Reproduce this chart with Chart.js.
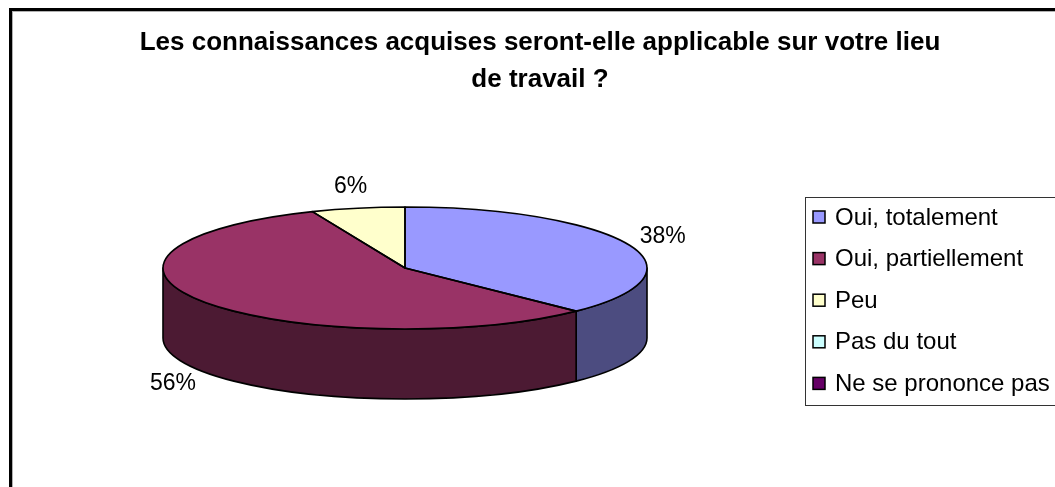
<!DOCTYPE html>
<html lang="fr">
<head>
<meta charset="utf-8">
<title>Connaissances applicables sur le lieu de travail</title>
<script src="https://cdn.jsdelivr.net/npm/chart.js@4.4.1/dist/chart.umd.min.js"></script>
<style>
  html, body { margin: 0; padding: 0; background: #fff; }
  #wrap { position: relative; width: 1055px; height: 487px; overflow: hidden; }
</style>
</head>
<body>
<div id="wrap"><canvas id="pie"></canvas></div>
<script>
const TITLE_LINES = ["Les connaissances acquises seront-elle applicable sur votre lieu", "de travail ?"];
const CATEGORIES = ["Oui, totalement", "Oui, partiellement", "Peu", "Pas du tout", "Ne se prononce pas"];
// share of answers in % (labels show them rounded)
const SHARES = [37.5, 56.25, 6.25, 0, 0];

const TOP_COLORS = ["#9999FF", "#993366", "#FFFFCC", "#CCFFFF", "#660066"];
const SIDE_COLORS = ["#4C4C80", "#4C1A33", "#80806A", "#6A8080", "#330033"];
const FONT = "'Liberation Sans', Arial, sans-serif";

// where the flattened pie sits on the canvas
const PIE = { cx: 405, cy: 268, rx: 242, ry: 61, depth: 70 };
const LABEL_GAP = { x: 37, y: 22 };
const LEGEND = { left: 805, top: 197, bottom: 405, right: 1070, firstY: 217, step: 41.6, box: 12 };

function toEllipse(ctx, arc) {
  const r = arc.outerRadius;
  ctx.translate(PIE.cx, PIE.cy);
  ctx.scale(PIE.rx / r, PIE.ry / r);
  ctx.translate(-arc.x, -arc.y);
}

const pie3d = {
  id: "pie3d",
  beforeDraw(chart) {
    const ctx = chart.ctx;
    ctx.save();
    ctx.fillStyle = "#fff";
    ctx.fillRect(0, 0, chart.width, chart.height);
    // outer chart frame (only top and left edges are inside the crop)
    ctx.fillStyle = "#b0b0b0";
    ctx.fillRect(12, 11, chart.width, 1);
    ctx.fillRect(12, 11, 1, chart.height);
    ctx.fillStyle = "#000";
    ctx.fillRect(9, 8, chart.width, 3);
    ctx.fillRect(9, 8, 3, chart.height);
    ctx.restore();
  },
  beforeDatasetsDraw(chart) {
    const ctx = chart.ctx;
    const arcs = chart.getDatasetMeta(0).data;
    // front walls of the slices
    arcs.forEach((arc, i) => {
      const a0 = Math.max(arc.startAngle, 0);
      const a1 = Math.min(arc.endAngle, Math.PI);
      if (a1 - a0 <= 1e-4) return;
      ctx.save();
      ctx.beginPath();
      ctx.ellipse(PIE.cx, PIE.cy, PIE.rx, PIE.ry, 0, a0, a1);
      ctx.ellipse(PIE.cx, PIE.cy + PIE.depth, PIE.rx, PIE.ry, 0, a1, a0, true);
      ctx.closePath();
      ctx.fillStyle = SIDE_COLORS[i];
      ctx.fill();
      ctx.lineWidth = 1.6;
      ctx.lineJoin = "round";
      ctx.strokeStyle = "#000";
      ctx.stroke();
      ctx.restore();
    });
    ctx.save();
    toEllipse(ctx, arcs[0]);
  },
  afterDatasetsDraw(chart) {
    const ctx = chart.ctx;
    ctx.restore();
    const arcs = chart.getDatasetMeta(0).data;

    // slice outlines on the top face, with an unscaled pen
    arcs.forEach((arc) => {
      if (arc.endAngle - arc.startAngle <= 1e-4) return;
      ctx.save();
      toEllipse(ctx, arc);
      ctx.beginPath();
      ctx.moveTo(arc.x, arc.y);
      ctx.arc(arc.x, arc.y, arc.outerRadius, arc.startAngle, arc.endAngle);
      ctx.closePath();
      ctx.restore();
      ctx.save();
      ctx.lineWidth = 1.6;
      ctx.lineJoin = "round";
      ctx.strokeStyle = "#000";
      ctx.stroke();
      ctx.restore();
    });

    // percentage labels outside the slices
    ctx.save();
    ctx.font = `23px ${FONT}`;
    ctx.fillStyle = "#000";
    ctx.textAlign = "center";
    ctx.textBaseline = "middle";
    arcs.forEach((arc, i) => {
      if (!SHARES[i]) return;
      const mid = (arc.startAngle + arc.endAngle) / 2;
      const c = Math.cos(mid);
      const s = Math.sin(mid);
      const x = PIE.cx + (PIE.rx + LABEL_GAP.x) * c;
      const y = PIE.cy + (PIE.ry + LABEL_GAP.y) * s + (s > 0 ? PIE.depth : 0);
      ctx.fillText(`${Math.round(SHARES[i])}%`, x, y);
    });
    ctx.restore();

    // legend box
    ctx.save();
    ctx.strokeStyle = "#333";
    ctx.lineWidth = 1;
    ctx.strokeRect(LEGEND.left + 0.5, LEGEND.top + 0.5, LEGEND.right - LEGEND.left, LEGEND.bottom - LEGEND.top);
    ctx.font = `24px ${FONT}`;
    ctx.textBaseline = "middle";
    CATEGORIES.forEach((name, i) => {
      const y = LEGEND.firstY + i * LEGEND.step;
      const bx = LEGEND.left + 8;
      ctx.fillStyle = TOP_COLORS[i];
      ctx.fillRect(bx, y - LEGEND.box / 2, LEGEND.box, LEGEND.box);
      ctx.lineWidth = 1.5;
      ctx.strokeStyle = "#000";
      ctx.strokeRect(bx, y - LEGEND.box / 2, LEGEND.box, LEGEND.box);
      ctx.fillStyle = "#000";
      ctx.fillText(name, LEGEND.left + 30, y + 1);
    });
    ctx.restore();
  }
};

new Chart(document.getElementById("pie"), {
  type: "pie",
  data: {
    labels: CATEGORIES,
    datasets: [
      {
        data: SHARES,
        backgroundColor: TOP_COLORS,
        borderWidth: 0,
        clip: false
      }
    ]
  },
  options: {
    responsive: true,
    maintainAspectRatio: false,
    animation: false,
    events: [],
    layout: { padding: { left: 25, right: 0, top: 0, bottom: 0 } },
    plugins: {
      legend: { display: false },
      tooltip: { enabled: false },
      title: {
        display: true,
        text: TITLE_LINES,
        color: "#000",
        font: { family: FONT, size: 26, weight: "bold", lineHeight: 1.4 },
        padding: { top: 25, bottom: 10 }
      }
    }
  },
  plugins: [pie3d]
});
</script>
</body>
</html>
